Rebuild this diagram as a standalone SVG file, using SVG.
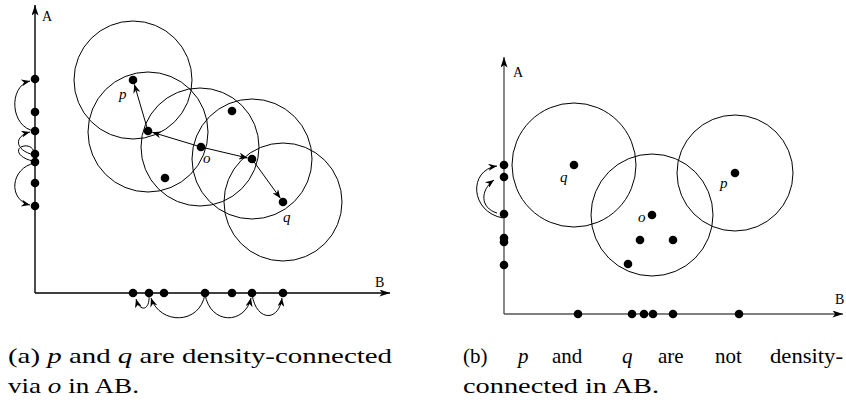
<svg xmlns="http://www.w3.org/2000/svg" width="846" height="415" viewBox="0 0 846 415">
<style>
.ax{stroke:#000;stroke-width:1.4;fill:none}
.axg{stroke:#555;stroke-width:1.4;fill:none}
.c{stroke:#000;stroke-width:1;fill:none}
.e{stroke:#000;stroke-width:1;fill:none}
.d{fill:#000}
text{font-family:"Liberation Serif","Times New Roman","DejaVu Serif",serif;fill:#000}
.lbl{font-size:14px}
.it{font-size:15px;font-style:italic}
.cap{font-size:21px}
.i{font-style:italic}
</style>
<defs>
<marker id="ah" viewBox="0 0 10 8" refX="10" refY="4" markerWidth="10" markerHeight="7" orient="auto" markerUnits="userSpaceOnUse"><path d="M0,0 L10,4 L0,8 L3,4 Z" fill="#000"/></marker>
<marker id="axh" viewBox="0 0 12 8" refX="12" refY="4" markerWidth="13" markerHeight="7" orient="auto" markerUnits="userSpaceOnUse"><path d="M0,0 L12,4 L0,8 L3,4 Z" fill="#000"/></marker>
</defs>

<!-- Panel (a) -->
<g id="a-axes">
<line class="ax" x1="35" y1="293" x2="35" y2="5" marker-end="url(#axh)"/>
<line class="ax" x1="35" y1="293" x2="390" y2="293" marker-end="url(#axh)"/>
<text class="lbl" x="42" y="21">A</text>
<text class="lbl" x="375" y="287">B</text>
</g>
<g id="a-circles">
<circle class="c" cx="133" cy="80" r="59"/>
<circle class="c" cx="148" cy="132" r="60"/>
<circle class="c" cx="200" cy="147" r="59"/>
<circle class="c" cx="252" cy="159" r="60"/>
<circle class="c" cx="283" cy="202" r="59"/>
</g>
<g id="a-points">
<circle class="d" cx="133" cy="80" r="4.3"/>
<circle class="d" cx="148" cy="131" r="4.3"/>
<circle class="d" cx="201" cy="147" r="4.3"/>
<circle class="d" cx="232" cy="111" r="4.3"/>
<circle class="d" cx="165" cy="178" r="4.3"/>
<circle class="d" cx="252" cy="159" r="4.3"/>
<circle class="d" cx="283" cy="202" r="4.3"/>
<text class="it" x="119" y="99">p</text>
<text class="it" x="203" y="163">o</text>
<text class="it" x="283" y="222">q</text>
</g>
<g id="a-axispoints">
<circle class="d" cx="35" cy="79" r="4.3"/>
<circle class="d" cx="35" cy="112" r="4.3"/>
<circle class="d" cx="35" cy="131" r="4.3"/>
<circle class="d" cx="35" cy="154" r="4.3"/>
<circle class="d" cx="35" cy="162" r="4.3"/>
<circle class="d" cx="35" cy="183" r="4.3"/>
<circle class="d" cx="35" cy="206" r="4.3"/>
<circle class="d" cx="133" cy="293" r="4.3"/>
<circle class="d" cx="149" cy="293" r="4.3"/>
<circle class="d" cx="164" cy="293" r="4.3"/>
<circle class="d" cx="205" cy="293" r="4.3"/>
<circle class="d" cx="232" cy="293" r="4.3"/>
<circle class="d" cx="252" cy="293" r="4.3"/>
<circle class="d" cx="283" cy="293" r="4.3"/>
</g>
<g id="a-connectors">
<line class="e" x1="148" y1="131" x2="134.3" y2="84.3" marker-end="url(#ah)"/>
<line class="e" x1="201" y1="147" x2="152.3" y2="132.3" marker-end="url(#ah)"/>
<line class="e" x1="201" y1="147" x2="247.6" y2="158" marker-end="url(#ah)"/>
<line class="e" x1="252" y1="159" x2="280.4" y2="198.3" marker-end="url(#ah)"/>
<path class="e" d="M35,131 C10,128 8,86 30,81" marker-end="url(#ah)"/>
<path class="e" d="M34,155 C14,150 14,136 30,132" marker-end="url(#ah)"/>
<path class="e" d="M33,161 C18,158 14,148 24,146 C30,145 34,149 34,153"/>
<path class="e" d="M35,163 C10,168 8,200 30,205" marker-end="url(#ah)"/>
<path class="e" d="M149,296 C150,310 140,313 136,299" marker-end="url(#ah)"/>
<path class="e" d="M205,294 C200,325 160,325 151,298" marker-end="url(#ah)"/>
<path class="e" d="M205,294 C210,325 245,325 251,298" marker-end="url(#ah)"/>
<path class="e" d="M252,294 C256,322 279,322 282,298" marker-end="url(#ah)"/>
</g>

<!-- Panel (b) -->
<g id="b-axes">
<line class="axg" x1="504" y1="314" x2="504" y2="57" marker-end="url(#axh)"/>
<line class="axg" x1="504" y1="314" x2="843" y2="314" marker-end="url(#axh)"/>
<text class="lbl" x="513" y="77">A</text>
<text class="lbl" x="835" y="304">B</text>
</g>
<g id="b-circles">
<circle class="c" cx="574" cy="165" r="62"/>
<circle class="c" cx="652" cy="215" r="61"/>
<circle class="c" cx="735" cy="173" r="58"/>
</g>
<g id="b-points">
<circle class="d" cx="574" cy="165" r="4.3"/>
<circle class="d" cx="652" cy="215" r="4.3"/>
<circle class="d" cx="735" cy="173" r="4.3"/>
<circle class="d" cx="640" cy="240" r="4.3"/>
<circle class="d" cx="673" cy="240" r="4.3"/>
<circle class="d" cx="628" cy="264" r="4.3"/>
<text class="it" x="560" y="182">q</text>
<text class="it" x="720" y="188">p</text>
<text class="it" x="638" y="222">o</text>
</g>
<g id="b-axispoints">
<circle class="d" cx="504" cy="165" r="4.3"/>
<circle class="d" cx="504" cy="177" r="4.3"/>
<circle class="d" cx="504" cy="214" r="4.3"/>
<circle class="d" cx="504" cy="238" r="4.3"/>
<circle class="d" cx="504" cy="242" r="4.3"/>
<circle class="d" cx="504" cy="265" r="4.3"/>
<circle class="d" cx="578" cy="314" r="4.3"/>
<circle class="d" cx="632" cy="314" r="4.3"/>
<circle class="d" cx="644" cy="314" r="4.3"/>
<circle class="d" cx="653" cy="314" r="4.3"/>
<circle class="d" cx="673" cy="314" r="4.3"/>
<circle class="d" cx="739" cy="314" r="4.3"/>
</g>
<g id="b-connectors">
<path class="e" d="M503,218 C470,212 468,170 497,166" marker-end="url(#ah)"/>
<path class="e" d="M497,213 C480,208 480,190 494,180" marker-end="url(#ah)"/>
</g>

<!-- Captions -->
<g id="captions">
<text class="cap" x="8" y="363" textLength="384" lengthAdjust="spacingAndGlyphs">(a) <tspan class="i">p</tspan> and <tspan class="i">q</tspan> are density-connected</text>
<text class="cap" x="8" y="393" textLength="131" lengthAdjust="spacingAndGlyphs">via <tspan class="i">o</tspan> in AB.</text>
<text class="cap" x="463" y="363">(b)</text>
<text class="cap i" x="518" y="363">p</text>
<text class="cap" x="552" y="363">and</text>
<text class="cap i" x="622" y="363">q</text>
<text class="cap" x="658" y="363">are</text>
<text class="cap" x="715" y="363">not</text>
<text class="cap" x="770" y="363" textLength="73" lengthAdjust="spacingAndGlyphs">density-</text>
<text class="cap" x="463" y="393" textLength="196" lengthAdjust="spacingAndGlyphs">connected in AB.</text>
</g>
</svg>
